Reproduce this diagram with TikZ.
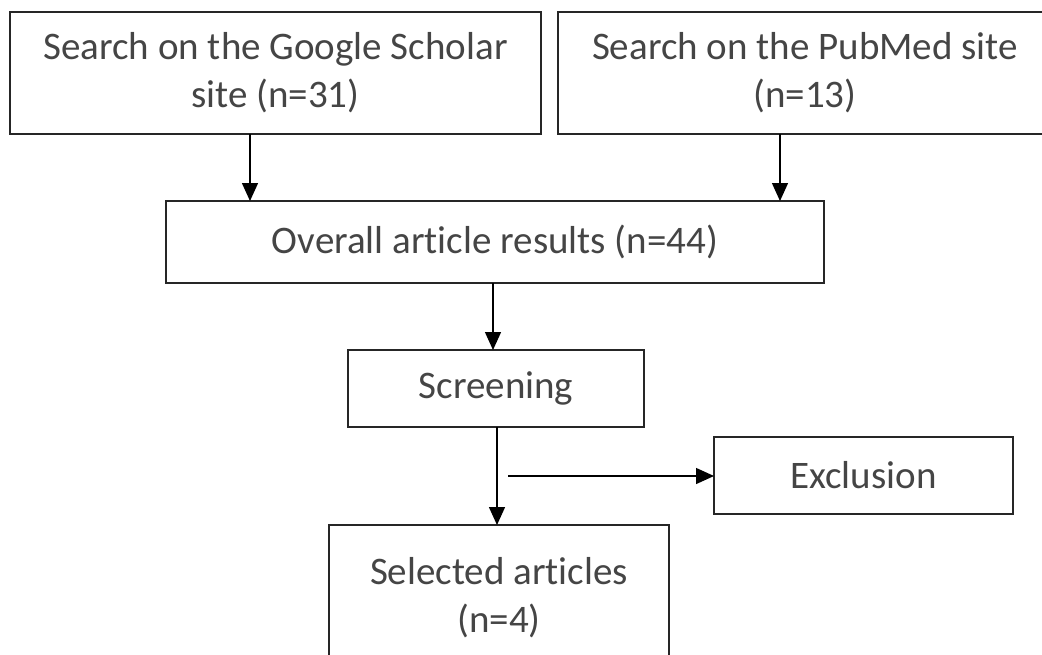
\documentclass[tikz,border=0pt]{standalone}
\usepackage{fontspec}
\setmainfont[Ligatures={NoCommon}]{Carlito}
\usetikzlibrary{arrows.meta}
\definecolor{txt}{HTML}{454545}
\begin{document}
\begin{tikzpicture}[x=1pt,y=-1pt,
  box/.style={draw=black!85,line width=1.4pt,rectangle,inner sep=0pt,outer sep=0pt,
    align=center,text=txt,font=\fontsize{39}{48}\selectfont},
  arr/.style={draw=black,line width=1.4pt,-{Triangle[width=16pt,length=18pt]}}]
\useasboundingbox (0,0) rectangle (1042,654);
\clip (0,0) rectangle (1042,654);
\fill[white] (0,0) rectangle (1042,654);
\node[box,minimum width=531pt,minimum height=122pt] (b1) at (275.5,73) {Search on the Google Scholar\\site (n=31)};
\node[box,minimum width=494pt,minimum height=122pt] (b2) at (805,73) {Search on the PubMed site\\(n=13)};
\node[box,minimum width=658pt,minimum height=82pt] (b3) at (495,242) {Overall article results (n=44)};
\node[box,minimum width=296pt,minimum height=77pt] (b4) at (496,388.5) {Screening};
\node[box,minimum width=299pt,minimum height=77pt] (b5) at (863.5,475.5) {Exclusion};
\node[box,minimum width=340pt,minimum height=145pt] (b6) at (499,597.5) {Selected articles\\(n=4)};
\coordinate (a1) at (250,134);
\coordinate (a2) at (780,134);
\coordinate (a3) at (493,283);
\coordinate (a4) at (497,427);
\coordinate (ex) at (508,476);
\draw[arr] (a1) -- (a1 |- b3.north);
\draw[arr] (a2) -- (a2 |- b3.north);
\draw[arr] (a3) -- (a3 |- b4.north);
\draw[arr] (a4) -- (a4 |- b6.north);
\draw[arr] (ex) -- (ex -| b5.west);
\end{tikzpicture}
\end{document}
